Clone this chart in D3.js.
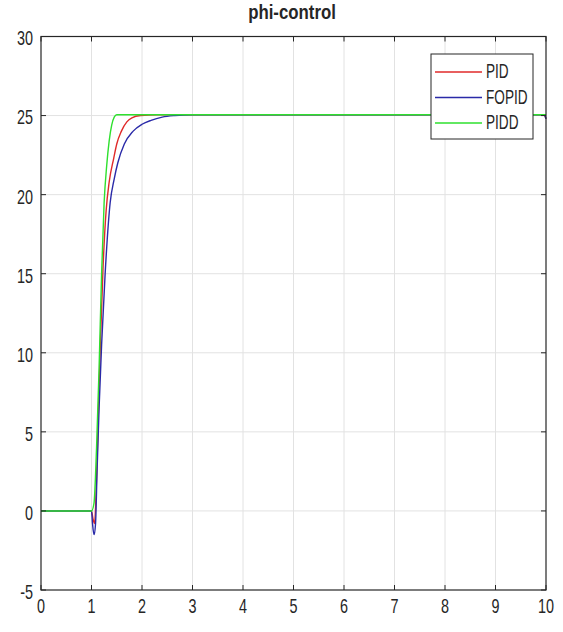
<!DOCTYPE html>
<html>
<head>
<meta charset="utf-8">
<script src="https://cdn.jsdelivr.net/npm/d3@7"></script>
<style>
  html, body { margin: 0; padding: 0; background: #fff; }
  svg { display: block; }
  text { font-family: "Liberation Sans", Arial, sans-serif; fill: #262626; }
</style>
</head>
<body>
<svg id="chart" width="563" height="632"></svg>
<script>
// Step responses of the phi (roll) loop for three controllers
const xTicks = [0, 1, 2, 3, 4, 5, 6, 7, 8, 9, 10];
const yTicks = [-5, 0, 5, 10, 15, 20, 25, 30];
const seriesNames = ["PID", "FOPID", "PIDD"];
const seriesColors = ["#e02a2a", "#2a2aa8", "#2ee02e"];

const pidTime  = [0, 1.0, 1.03, 1.06, 1.09, 1.13, 1.18, 1.23, 1.29, 1.35, 1.44, 1.5, 1.59, 1.7, 1.8, 1.97, 2.3, 5, 9.96, 10];
const pidValue = [0, 0, -0.5, -0.8, 1.0, 5.5, 11, 15.5, 19, 20.8, 22.3, 23.2, 24.0, 24.6, 24.85, 25.0, 25.05, 25.05, 25.05, 24.8];

const fopidTime  = [0, 1.0, 1.02, 1.05, 1.08, 1.11, 1.15, 1.2, 1.27, 1.37, 1.45, 1.52, 1.65, 1.82, 2.0, 2.18, 2.4, 2.65, 3.0, 5, 9.96, 10];
const fopidValue = [0, 0, -0.8, -1.5, -0.8, 2.5, 6.5, 10.5, 15, 19.5, 21, 22, 23.2, 24.0, 24.45, 24.7, 24.9, 25.0, 25.05, 25.05, 25.05, 24.8];

const piddTime  = [0, 1.0, 1.05, 1.1, 1.15, 1.2, 1.25, 1.3, 1.35, 1.4, 1.45, 1.5, 2, 5, 10];
const piddValue = [0, 0, 0.5, 4, 9, 15, 19.5, 21.8, 23.4, 24.4, 24.9, 25.05, 25.05, 25.05, 25.05];

const seriesTime = [pidTime, fopidTime, piddTime];
const seriesValue = [pidValue, fopidValue, piddValue];

const svg = d3.select("#chart");
const plotLeft = 41, plotRight = 546, plotTop = 36.5, plotBottom = 590;

const x = d3.scaleLinear().domain([0, 10]).range([plotLeft, plotRight]);
const y = d3.scaleLinear().domain([-5, 30]).range([plotBottom, plotTop]);

// narrow-looking labels: regular face squeezed horizontally
function label(g, px, py, str, opts) {
  const t = g.append("g").attr("transform", `translate(${px},${py}) scale(${opts.sx},1)`)
    .append("text")
    .attr("text-anchor", opts.anchor || "middle")
    .attr("dominant-baseline", opts.baseline || "central")
    .attr("font-size", opts.size)
    .text(str);
  if (opts.bold) t.attr("font-weight", "bold");
  if (opts.fill) t.attr("fill", opts.fill);
  return t;
}

// grid
const grid = svg.append("g");
grid.selectAll("line.gx").data(xTicks.slice(1, -1)).join("line")
  .attr("x1", d => x(d)).attr("x2", d => x(d))
  .attr("y1", plotTop).attr("y2", plotBottom)
  .attr("stroke", "#e2e2e2").attr("stroke-width", 1);
grid.selectAll("line.gy").data(yTicks.slice(1, -1)).join("line")
  .attr("x1", plotLeft).attr("x2", plotRight)
  .attr("y1", d => y(d)).attr("y2", d => y(d))
  .attr("stroke", "#e2e2e2").attr("stroke-width", 1);

// curves
const line = d3.line().x(d => x(d[0])).y(d => y(d[1])).curve(d3.curveMonotoneX);
seriesNames.forEach((name, i) => {
  const pts = seriesTime[i].map((t, k) => [t, seriesValue[i][k]]);
  svg.append("path")
    .datum(pts)
    .attr("d", line)
    .attr("fill", "none")
    .attr("stroke", seriesColors[i])
    .attr("stroke-width", 1.4);
});

// axes with inward ticks on all four sides
const tickLen = 5;
const axisG = svg.append("g").attr("stroke", "#262626").attr("stroke-width", 1);
axisG.selectAll("line.tb").data(xTicks).join("line")
  .attr("x1", d => x(d)).attr("x2", d => x(d))
  .attr("y1", plotBottom).attr("y2", plotBottom - tickLen);
axisG.selectAll("line.tt").data(xTicks).join("line")
  .attr("x1", d => x(d)).attr("x2", d => x(d))
  .attr("y1", plotTop).attr("y2", plotTop + tickLen);
axisG.selectAll("line.tl").data(yTicks).join("line")
  .attr("x1", plotLeft).attr("x2", plotLeft + tickLen)
  .attr("y1", d => y(d)).attr("y2", d => y(d));
axisG.selectAll("line.tr").data(yTicks).join("line")
  .attr("x1", plotRight).attr("x2", plotRight - tickLen)
  .attr("y1", d => y(d)).attr("y2", d => y(d));
svg.append("rect")
  .attr("x", plotLeft).attr("y", plotTop)
  .attr("width", plotRight - plotLeft).attr("height", plotBottom - plotTop)
  .attr("fill", "none").attr("stroke", "#262626").attr("stroke-width", 1.2);

// tick labels
const labels = svg.append("g");
xTicks.forEach(d => label(labels, x(d), 606, String(d), { sx: 0.72, size: 20 }));
yTicks.forEach(d => label(labels, 33, y(d) + 2, String(d), { sx: 0.72, size: 20, anchor: "end" }));

// title
label(svg, 292, 12, "phi-control", { sx: 0.8, size: 21, bold: true, fill: "#000" });

// legend
const lg = svg.append("g");
lg.append("rect")
  .attr("x", 431).attr("y", 54).attr("width", 102).attr("height", 85)
  .attr("fill", "#fff").attr("stroke", "#262626").attr("stroke-width", 1);
const rowY = [72, 97.5, 123];
seriesNames.forEach((name, i) => {
  lg.append("line")
    .attr("x1", 435).attr("x2", 482)
    .attr("y1", rowY[i]).attr("y2", rowY[i])
    .attr("stroke", seriesColors[i]).attr("stroke-width", 1.4);
  label(lg, 486, rowY[i], name, { sx: 0.68, size: 20, anchor: "start", fill: "#000" });
});
</script>
</body>
</html>
